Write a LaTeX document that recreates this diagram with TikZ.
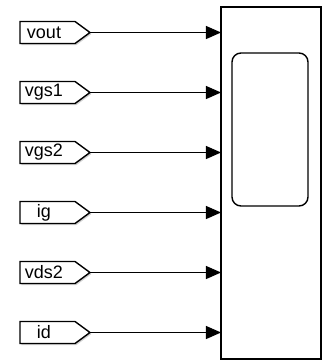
\documentclass[tikz,border=0pt]{standalone}
\usepackage{fontspec}
\setmainfont{Liberation Sans}
\usetikzlibrary{arrows.meta}
\begin{document}
\begin{tikzpicture}[x=1pt,y=-1pt,
  tagshape/.style={draw=black, line width=1.4pt, fill=white},
  tagshadow/.style={fill=black!18, draw=none},
  tagtext/.style={font=\fontsize{18}{18}\selectfont, inner sep=0pt, anchor=center},
  conn/.style={line width=1pt, -{Triangle[length=15pt,width=13pt]}},
  scopebox/.style={draw=black, line width=1.4pt, fill=white}
]
\useasboundingbox (0,0) rectangle (323,360);
% scope block
\draw[scopebox] (221,7) rectangle (321,359);
\node[draw=black, line width=1.4pt, rounded corners=9pt, minimum width=76pt, minimum height=153pt, inner sep=0pt] (screen) at (270,129.5) {};
\coordinate (scopeL) at (221,0);
\foreach \name/\lab [count=\i from 0] in {vout/vout, vgs1/vgs1, vgs2/vgs2, ig/ig, vds2/vds2, id/id} {
  \pgfmathsetmacro{\yc}{32.5+60*\i}
  \fill[tagshadow] (21.5,\yc-9.5) -- (76.5,\yc-9.5) -- (91.5,\yc+1.5) -- (76.5,\yc+12.5) -- (21.5,\yc+12.5) -- cycle;
  \draw[tagshape] (20,\yc-11) -- (75,\yc-11) -- (90,\yc) -- (75,\yc+11) -- (20,\yc+11) -- cycle;
  \coordinate (\name tip) at (90,\yc);
  \coordinate (\name in) at (221,\yc);
  \node[tagtext] (\name) at (44,\yc) {\lab};
  \draw[conn] (\name tip) -- (\name in);
}
\end{tikzpicture}
\end{document}
